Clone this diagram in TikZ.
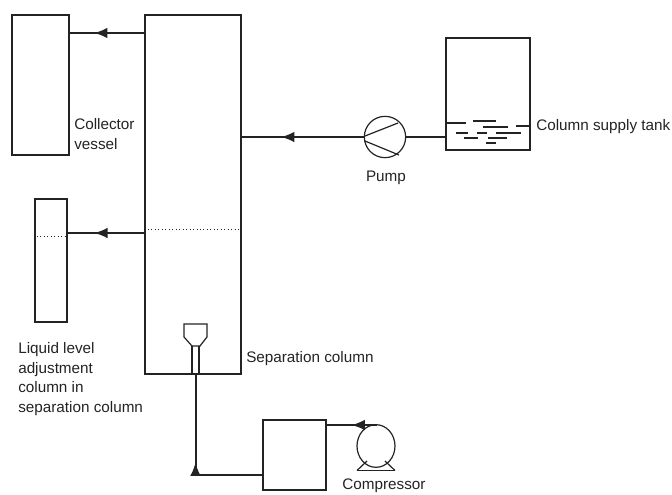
\documentclass[tikz,border=0pt]{standalone}
\usepackage{fontspec}
\setmainfont{Liberation Sans}
\usetikzlibrary{shapes.geometric,arrows,arrows.meta,decorations.markings}
\definecolor{ink}{RGB}{35, 35, 35}

\tikzset{
    vessel/.style={draw=ink, line width=1.6pt, inner sep=0pt},
    pipe/.style={draw=ink, line width=1.5pt},
    thinline/.style={draw=ink, line width=0.9pt},
    level/.style={draw=ink, line width=0.6pt, dotted},
    label/.style={font=\fontsize{11.45}{14.7}\selectfont, text=ink, inner sep=0pt, align=left},
    flow/.style={decoration={markings, mark=at position #1 with {\arrow{Latex[length=10pt,width=8pt]}}}, postaction={decorate}}
}

\begin{document}
\begin{tikzpicture}[x=0.75pt, y=-0.75pt]
    \useasboundingbox (0,0) rectangle (672,494);

    % vessels
    \node[vessel, minimum width=42.75pt, minimum height=105pt] (collector) at (40.5,85) {};
    \node[vessel, minimum width=72pt, minimum height=269.25pt] (column) at (193,194.5) {};
    \node[vessel, minimum width=24pt, minimum height=92.25pt] (adjust) at (51,260.5) {};
    \node[vessel, minimum width=63pt, minimum height=84pt] (tank) at (488,94) {};
    \node[vessel, minimum width=47.25pt, minimum height=52.5pt] (receiver) at (294.5,455) {};

    % pump and compressor
    \node[circle, thinline, minimum size=31pt, inner sep=0pt] (pump) at (385,137) {};
    \node[ellipse, thinline, minimum width=28.5pt, minimum height=32pt, inner sep=0pt] (compressor) at (376,446) {};
    \draw[thinline] (365,136) -- (398,123);
    \draw[thinline] (365,141) -- (399,155);
    \draw[thinline] (357,470.5) -- (395,470.5);
    \draw[thinline] (357,470.5) -- (367,461);
    \draw[thinline] (395,470.5) -- (385,461);

    % liquid in the tank
    \foreach \xa/\xb/\ya in {447/466/123, 473/496/121, 483/508/127, 516/530/126, 456/468/133,
        477/487/133, 496/521/133, 464/478/138, 488/507/138, 486/496/143}
        \draw[thinline] (\xa,\ya) -- (\xb,\ya);

    % liquid levels
    \draw[level] (148,229) -- (241,229);
    \draw[level] (37,236) -- (65,236);

    % sparger
    \draw[thinline] (184,324) -- (207,324) -- (207,337) -- (200,346) -- (192,346) -- (184,337) -- cycle;
    \draw[thinline] (192,346) -- (192,374);
    \draw[thinline] (199,346) -- (199,374);

    \coordinate (out1) at (145,33);
    \coordinate (out2) at (145,233);
    \coordinate (sparge) at (195.5,374);
    \coordinate (corner) at (195.5,475);
    \coordinate (boxout) at (263,475);
    \coordinate (boxin) at (326,425);
    \coordinate (compout) at (377,425);

    % connectors
    \draw[pipe, flow=0.68] (out1) -- (collector.east |- out1);
    \draw[pipe, flow=0.66] (out2) -- (adjust.east |- out2);
    \draw[pipe, flow=0.68] (pump.west) -- (column.east |- pump.west);
    \draw[pipe] (tank.west |- pump.east) -- (pump.east);
    \draw[pipe, flow=0.5] (compout) -- (boxin);
    \draw[pipe, flow=0.475] (boxout) -- (corner) -- (sparge);

    % labels
    \node[label, anchor=west] (lcollector) at (74,134) {Collector\\vessel};
    \node[label, anchor=west] (ladjust) at (18,379) {Liquid level\\adjustment\\column in\\separation column};
    \node[label, anchor=west] (lcolumn) at (246,359) {Separation column};
    \node[label] (lpump) at (386,178) {Pump};
    \node[label, anchor=west] (ltank) at (536,127) {Column supply tank};
    \node[label] (lcompressor) at (384,486) {Compressor};
\end{tikzpicture}
\end{document}
